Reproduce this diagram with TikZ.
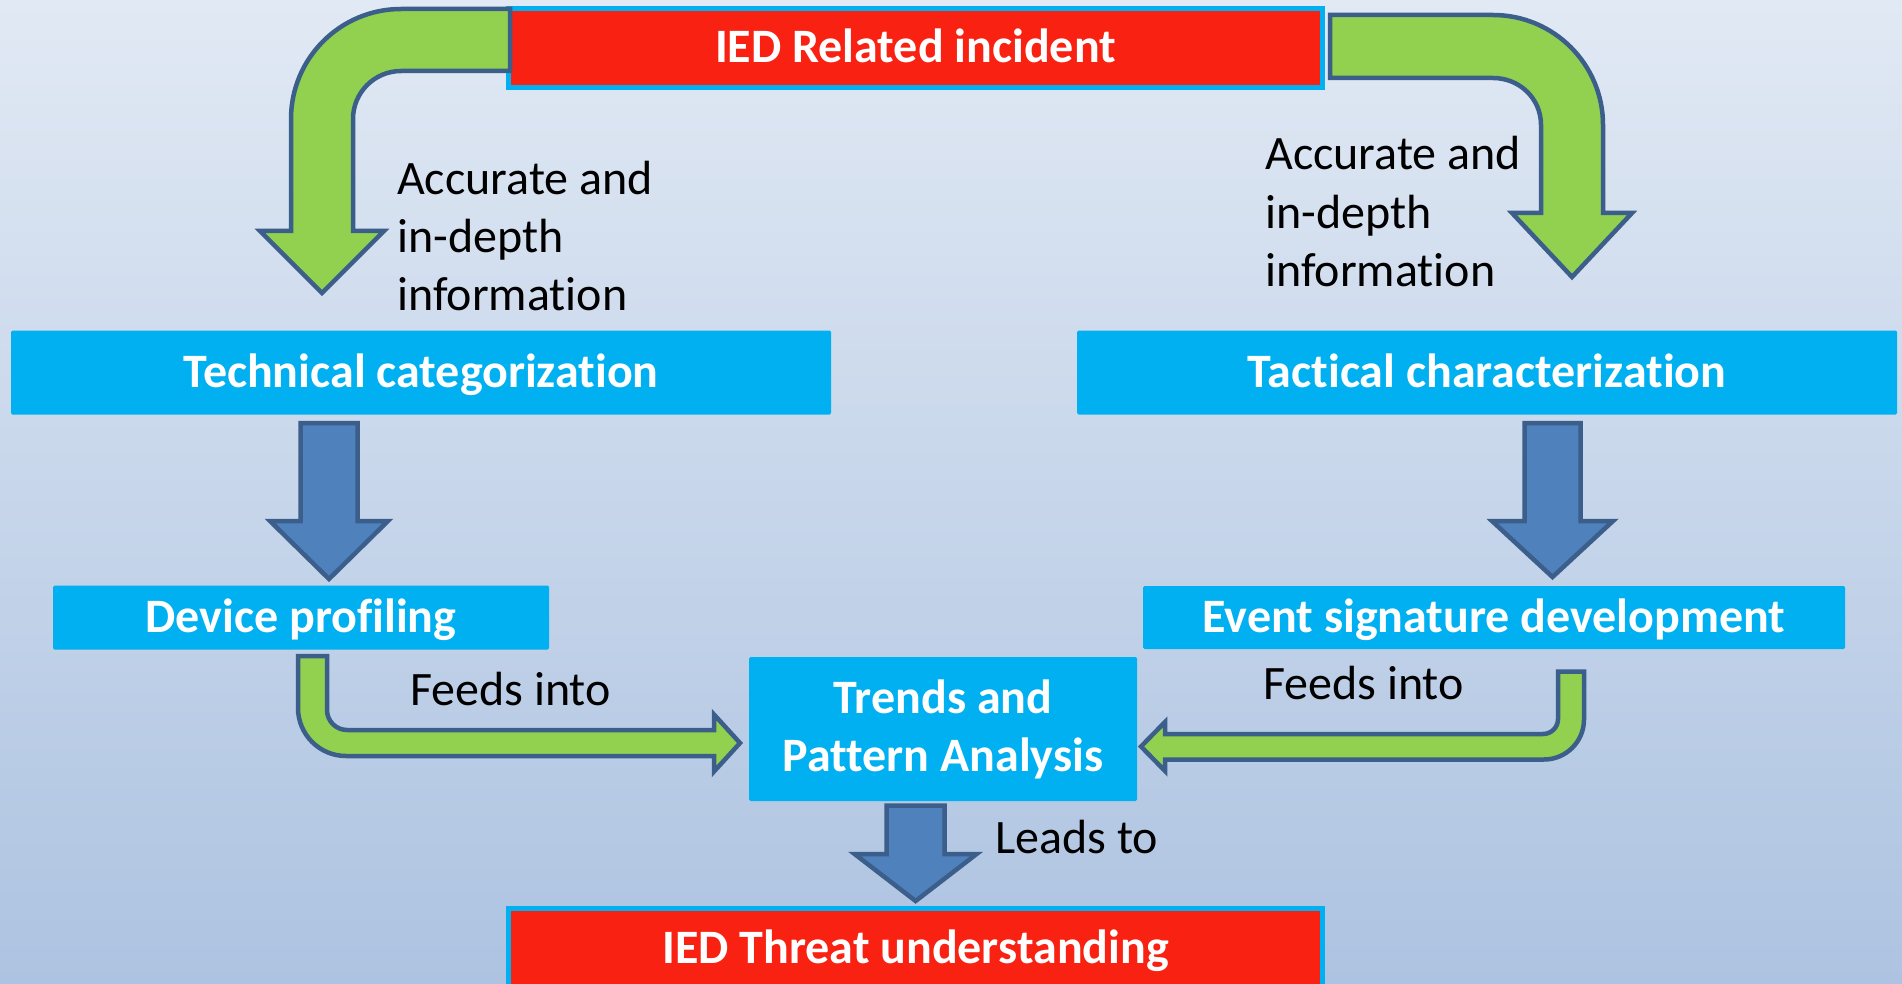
\documentclass[tikz,border=0pt]{standalone}
\usepackage{fontspec}
\setmainfont{Carlito}[Ligatures=NoCommon]
\usetikzlibrary{calc}

\definecolor{bgtop}{HTML}{E1E9F4}
\definecolor{bgbot}{HTML}{ADC3E1}
\definecolor{redc}{HTML}{F82112}
\definecolor{cyanc}{HTML}{00B0F0}
\definecolor{greenc}{HTML}{92D050}
\definecolor{bluec}{HTML}{4F81BD}
\definecolor{edgec}{HTML}{3B5E8B}

\newcommand\bigfont{\fontsize{48}{58}\selectfont}

% block arrow pointing down: #1 top centre of the shaft, #2 half shaft width,
% #3 half head width, #4 depth of the head base, #5 depth of the tip
\newcommand\blockdown[5]{%
  \draw[blockline, fill=bluec, shift={(#1)}]
    (-#2,0) -- (-#2,#4) -- (-#3,#4) -- (0,#5) -- (#3,#4) -- (#2,#4) -- (#2,0) -- cycle;}

\tikzset{
  blockline/.style={draw=edgec, line width=4.5pt, line join=miter},
  redbox/.style={draw=cyanc, line width=5pt, fill=redc, text=white,
    font=\bigfont\bfseries, minimum width=814pt, minimum height=79pt, inner sep=0pt,
    text height=36pt, text depth=6pt},
  bluebox/.style={fill=cyanc, text=white, font=\bigfont\bfseries, inner sep=0pt,
    rounded corners=1.5pt, text height=36pt, text depth=6pt},
  lbl/.style={font=\bigfont, anchor=base west, inner sep=0pt, align=left, text=black},
}

\begin{document}
\begin{tikzpicture}[x=1pt, y=-1pt]
  \useasboundingbox (0,0) rectangle (1902,984);
  \fill[top color=bgtop, bottom color=bgbot] (0,0) rectangle (1902,984);

  % boxes
  \node[redbox] (incident) at (915.5,48) {IED Related incident};
  \node[bluebox, minimum width=820pt, minimum height=84pt] (tech) at (421,372.5) {Technical categorization};
  \node[bluebox, minimum width=820pt, minimum height=84pt] (tact) at (1487,372.5) {Tactical characterization};
  \node[bluebox, minimum width=496pt, minimum height=64pt] (device) at (301,617.5) {Device profiling};
  \node[bluebox, minimum width=702pt, minimum height=63pt] (event) at (1494,617.5) {Event signature development};
  \node[bluebox, minimum width=388pt, minimum height=144pt, align=center, text height=, text depth=] (trends) at (943,729) {Trends and\\Pattern Analysis};
  \node[redbox] (threat) at (915.5,948) {IED Threat understanding};

  % anchor points of the block arrows
  \coordinate (tlc) at (291,9);
  \coordinate (trc) at (1603,15);
  \coordinate (blc) at (298,756);
  \coordinate (brc) at (1584,759.5);
  \coordinate (techout) at (329,423);
  \coordinate (tactout) at (1552.5,423);
  \coordinate (trendsout) at (915.6,805.5);

  % incident -> technical categorization
  \begin{scope}[shift={(tlc)}]
    \draw[blockline, fill=greenc]
      (219,0) -- (110,0) .. controls (49.25,0) and (0,49.25) .. (0,110)
      -- (0,222) -- (-31,222) -- (31,284) -- (93,222) -- (62,222) -- (62,110)
      .. controls (62,83.5) and (83.5,62) .. (110,62) -- (219,62) -- cycle;
  \end{scope}

  % incident -> tactical characterization
  \begin{scope}[shift={(trc)}, xscale=-1]
    \draw[blockline, fill=greenc]
      (273,0) -- (110,0) .. controls (49.25,0) and (0,49.25) .. (0,110)
      -- (0,198) -- (-29,198) -- (31,262) -- (91,198) -- (62,198) -- (62,110)
      .. controls (62,83.5) and (83.5,63) .. (110,63) -- (273,63) -- cycle;
  \end{scope}

  % device profiling -> trends
  \begin{scope}[shift={(blc)}]
    \draw[blockline, fill=greenc]
      (0,-100) -- (0,-48) .. controls (0,-21.5) and (21.5,0) .. (48,0)
      -- (416,0) -- (416,15.5) -- (442,-13) -- (416,-41.5) -- (416,-26)
      -- (49,-26) .. controls (38,-26) and (29,-35) .. (29,-46) -- (29,-100) -- cycle;
  \end{scope}

  % event signature -> trends
  \begin{scope}[shift={(brc)}, xscale=-1]
    \draw[blockline, fill=greenc]
      (0,-88) -- (0,-40) .. controls (0,-17.9) and (17.9,0) .. (40,0)
      -- (419,0) -- (419,11.5) -- (443,-13) -- (419,-37.5) -- (419,-25.5)
      -- (41,-25.5) .. controls (32.7,-25.5) and (26,-32.2) .. (26,-40.5) -- (26,-88) -- cycle;
  \end{scope}

  % straight block arrows
  \blockdown{techout}{28.5}{59}{98}{156}
  \blockdown{tactout}{28}{60.5}{98}{154}
  \blockdown{trendsout}{29}{61}{48.5}{95.5}

  % labels (base anchor sits on the last line)
  \node[lbl] (infoL) at (397,310) {Accurate and\\in-depth\\information};
  \node[lbl] (infoR) at (1265,286) {Accurate and\\in-depth\\information};
  \node[lbl] (feedL) at (410,705) {Feeds into};
  \node[lbl] (feedR) at (1263,699) {Feeds into};
  \node[lbl] (leads) at (995,853) {Leads to};
\end{tikzpicture}
\end{document}
